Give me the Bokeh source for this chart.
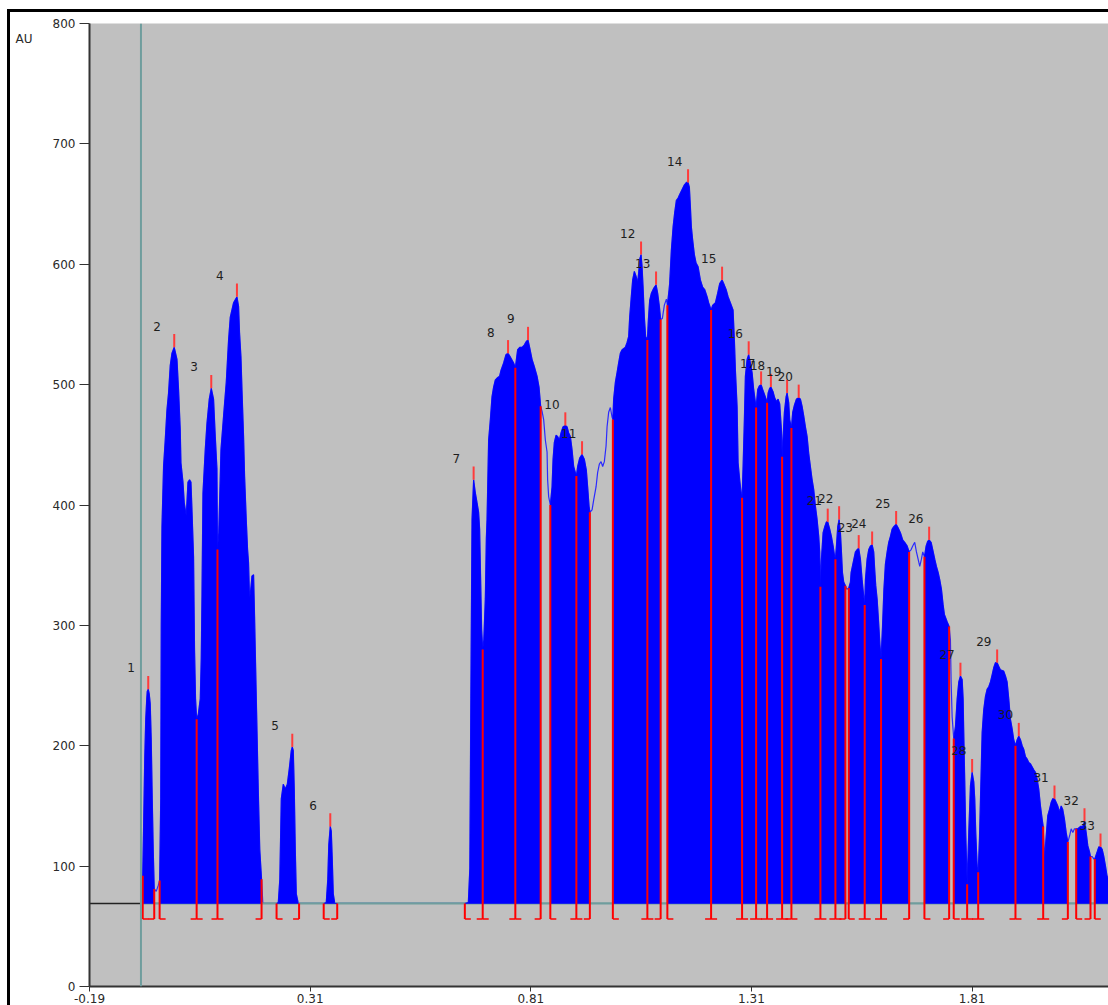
import numpy as np
from bokeh.plotting import figure
from bokeh.models import Range1d, FixedTicker, Span, LinearAxis
from bokeh.embed import file_html
from bokeh.resources import INLINE
from bokeh.core.properties import value

# ---------------- data (time, AU) ----------------
time_pts = [
    -0.0734, -0.0716, -0.0694, -0.0671, -0.0648, -0.0626, -0.0603, -0.0592, -0.0569, -0.0546, -0.0524, -0.0501, -0.0478, -0.0456, -0.0433, -0.0388, -0.0342, -0.0311,
    -0.0286, -0.0274, -0.0258, -0.0222, -0.0184, -0.0145, -0.0109, -0.0070, -0.0032, 0.0020, 0.0082, 0.0118, 0.0156, 0.0172, 0.0218, 0.0247, 0.0292, 0.0331, 0.0367, 0.0399, 0.0422, 0.0458, 0.0480, 0.0503, 0.0528,
    0.0564, 0.0610, 0.0632, 0.0648, 0.0671, 0.0723, 0.0762, 0.0814, 0.0859, 0.0911, 0.0950, 0.0988, 0.1000,
    0.1029, 0.1079, 0.1138, 0.1199, 0.1251, 0.1290, 0.1364, 0.1441, 0.1478, 0.1500, 0.1532, 0.1555, 0.1591, 0.1614, 0.1652, 0.1682, 0.1704, 0.1727, 0.1754, 0.1781, 0.1818, 0.1840, 0.1856, 0.1890, 0.1924, 0.1958, 0.1999, 0.2026, 0.2060,
    0.2339, 0.2378, 0.2412, 0.2446, 0.2491, 0.2536, 0.2582, 0.2627, 0.2672, 0.2695, 0.2718, 0.2740, 0.2763, 0.2786, 0.2831, 0.2849,
    0.3407, 0.3465, 0.3499, 0.3522, 0.3556, 0.3579, 0.3601, 0.3624, 0.3658, 0.3713,
    0.6605, 0.6684, 0.6718, 0.6741, 0.6768, 0.6804, 0.6843, 0.6881, 0.6917, 0.6940, 0.6963, 0.6985, 0.7010,
    0.7035, 0.7069, 0.7092, 0.7108, 0.7144, 0.7183, 0.7221, 0.7257, 0.7296, 0.7348, 0.7393, 0.7425, 0.7484, 0.7538, 0.7584, 0.7636, 0.7711, 0.7749,
    0.7801, 0.7847, 0.7901, 0.7953, 0.7999, 0.8037, 0.8073, 0.8128, 0.8180, 0.8241, 0.8286, 0.8323,
    0.8354, 0.8391, 0.8429, 0.8468, 0.8481, 0.8504, 0.8542,
    0.8581, 0.8604, 0.8633, 0.8672, 0.8708, 0.8746, 0.8785, 0.8830, 0.8882, 0.8921, 0.8957, 0.8996, 0.9034, 0.9071, 0.9132,
    0.9161, 0.9207, 0.9261, 0.9313, 0.9358, 0.9388, 0.9420, 0.9438,
    0.9488, 0.9524, 0.9578, 0.9614, 0.9653, 0.9692, 0.9728, 0.9766, 0.9805, 0.9828, 0.9864, 0.9902, 0.9941, 0.9959,
    0.9977, 1.0016, 1.0054, 1.0090, 1.0129, 1.0167, 1.0242, 1.0281, 1.0317, 1.0340, 1.0372, 1.0408, 1.0446, 1.0485, 1.0521, 1.0544, 1.0566, 1.0598, 1.0621, 1.0644, 1.0673, 1.0702, 1.0741,
    1.0764, 1.0793, 1.0832, 1.0884, 1.0938, 1.0974, 1.1013, 1.1042,
    1.1081, 1.1126, 1.1172, 1.1194,
    1.1233, 1.1246, 1.1285, 1.1324, 1.1360, 1.1398, 1.1437, 1.1473, 1.1527, 1.1580, 1.1625, 1.1663, 1.1693, 1.1716, 1.1738, 1.1768, 1.1806, 1.1845, 1.1890, 1.1942, 1.1994, 1.2040, 1.2094, 1.2130, 1.2185,
    1.2221, 1.2282, 1.2334, 1.2380, 1.2434, 1.2470, 1.2525, 1.2570, 1.2622, 1.2683, 1.2713, 1.2736, 1.2774, 1.2797, 1.2833, 1.2865, 1.2887,
    1.2910, 1.2939, 1.2962, 1.3001, 1.3037, 1.3075, 1.3114, 1.3150, 1.3205,
    1.3241, 1.3279, 1.3318, 1.3354, 1.3393, 1.3431, 1.3454,
    1.3477, 1.3513, 1.3540, 1.3590, 1.3626, 1.3665, 1.3703, 1.3740, 1.3778, 1.3794,
    1.3817, 1.3846, 1.3885, 1.3907, 1.3944, 1.3966, 1.3998, 1.4005,
    1.4034, 1.4073, 1.4118, 1.4170, 1.4209, 1.4247, 1.4284, 1.4322, 1.4360, 1.4397, 1.4435, 1.4474, 1.4510, 1.4549, 1.4587, 1.4624, 1.4646, 1.4662,
    1.4685, 1.4723, 1.4760, 1.4798, 1.4828, 1.4873, 1.4911, 1.4950, 1.4986, 1.5002,
    1.5025, 1.5054, 1.5086, 1.5116, 1.5139, 1.5161, 1.5190, 1.5229,
    1.5263, 1.5304,
    1.5342, 1.5358, 1.5403, 1.5455, 1.5494, 1.5530, 1.5569, 1.5607, 1.5644, 1.5666,
    1.5682, 1.5720, 1.5757, 1.5795, 1.5834, 1.5870, 1.5893, 1.5916, 1.5947, 1.5977, 1.6011, 1.6036,
    1.6067, 1.6101, 1.6135, 1.6174, 1.6210, 1.6249, 1.6287, 1.6324, 1.6378, 1.6423, 1.6475, 1.6527, 1.6573, 1.6627, 1.6673,
    1.6718, 1.6754, 1.6799, 1.6838, 1.6876, 1.6913, 1.6951, 1.6981, 1.7019,
    1.7058, 1.7094, 1.7126, 1.7171, 1.7207, 1.7253, 1.7291, 1.7330, 1.7366, 1.7405, 1.7443, 1.7472, 1.7534, 1.7579,
    1.7608, 1.7624, 1.7647, 1.7683,
    1.7722, 1.7761, 1.7797, 1.7835, 1.7874, 1.7896, 1.7910, 1.7933, 1.7955, 1.7987,
    1.8023, 1.8062, 1.8100, 1.8137, 1.8159, 1.8182, 1.8214, 1.8237,
    1.8266, 1.8289, 1.8327, 1.8363, 1.8402, 1.8440, 1.8477, 1.8515, 1.8554, 1.8590, 1.8628, 1.8667, 1.8703, 1.8742, 1.8816, 1.8855, 1.8893, 1.8930, 1.8968, 1.9007, 1.9043, 1.9082,
    1.9120, 1.9157, 1.9195, 1.9234, 1.9270, 1.9308, 1.9347, 1.9383, 1.9422, 1.9497, 1.9535, 1.9574, 1.9610, 1.9648, 1.9687, 1.9710,
    1.9739, 1.9784, 1.9814, 1.9852, 1.9891, 1.9927, 1.9966, 2.0004, 2.0041, 2.0079, 2.0118, 2.0154, 2.0192, 2.0231, 2.0269,
    2.0307, 2.0344, 2.0381, 2.0419, 2.0458,
    2.0493, 2.0555, 2.0607, 2.0646, 2.0684, 2.0721, 2.0759, 2.0782,
    2.0820, 2.0857, 2.0879,
    2.0934, 2.0970, 2.1009, 2.1047, 2.1084, 2.1122, 2.1156, 2.1189, 2.1400,
]
au_pts = [
    69, 80, 92, 140, 190, 222, 239, 245, 247, 243, 235, 205, 156, 114, 81, 79, 84, 88,
    156, 299, 382, 432, 454, 479, 493, 516, 526, 531, 521, 496, 463, 435, 419, 402, 391, 419, 421, 419, 396, 357, 280, 239, 222,
    226, 239, 272, 322, 410, 446, 468, 488, 497, 488, 457, 430, 363,
    377, 446, 474, 502, 537, 556, 568, 573, 565, 543, 523, 496, 457, 424, 388, 363, 352, 322, 330, 341, 342, 308, 280, 222, 164, 114, 89, 70, 69,
    69, 70, 89, 156, 168, 164, 168, 181, 196, 199, 196, 164, 114, 77, 69, 69,
    69, 70, 89, 118, 133, 129, 106, 77, 69, 69,
    69, 70, 98, 239, 388, 421, 410, 402, 394, 380, 338, 297, 280,
    288, 322, 372, 388, 454, 471, 490, 498, 504, 506, 507, 512, 518, 525, 526, 523, 518, 514,
    529, 531, 531, 533, 536, 537, 531, 521, 515, 507, 498, 482,
    478, 471, 454, 444, 421, 407, 400,
    415, 438, 452, 458, 457, 454, 460, 465, 466, 465, 460, 457, 446, 432, 424,
    432, 439, 442, 438, 429, 415, 399, 394,
    396, 404, 415, 427, 434, 436, 432, 436, 449, 465, 477, 481, 473, 471,
    488, 502, 510, 518, 526, 529, 531, 535, 540, 556, 571, 587, 594, 590, 585, 593, 604, 608, 598, 581, 556, 540, 537,
    554, 570, 576, 580, 583, 576, 565, 554,
    555, 566, 571, 566,
    579, 584, 612, 631, 643, 653, 655, 658, 662, 666, 668, 668, 664, 648, 631, 620, 608, 601, 598, 587, 581, 579, 573, 568, 562,
    566, 568, 576, 584, 587, 584, 579, 573, 568, 562, 537, 512, 482, 435, 421, 410, 406,
    432, 471, 507, 521, 525, 518, 510, 496, 481,
    496, 499, 500, 496, 492, 488, 485,
    493, 497, 498, 494, 489, 486, 488, 484, 463, 440,
    457, 477, 490, 493, 485, 471, 465, 464,
    477, 483, 488, 489, 488, 482, 474, 465, 457, 443, 432, 421, 413, 399, 388, 374, 361, 332,
    355, 377, 382, 386, 386, 380, 374, 366, 357, 355,
    366, 382, 388, 377, 361, 344, 336, 333,
    330, 331,
    336, 344, 352, 361, 363, 364, 355, 338, 324, 317,
    338, 355, 363, 366, 367, 361, 346, 333, 322, 305, 284, 272,
    297, 330, 351, 361, 369, 374, 380, 382, 384, 381, 377, 371, 369, 366, 361,
    363, 366, 369, 361, 355, 349, 355, 361, 357,
    366, 370, 371, 369, 363, 355, 349, 344, 338, 330, 317, 309, 303, 299,
    288, 253, 224, 206,
    216, 239, 253, 258, 255, 239, 211, 170, 128, 85,
    128, 167, 178, 170, 156, 128, 100, 95,
    123, 156, 211, 230, 241, 247, 249, 253, 259, 265, 269, 269, 266, 263, 262, 258, 253, 239, 222, 214, 205, 200,
    205, 208, 205, 200, 197, 191, 189, 186, 185, 180, 178, 172, 164, 150, 139, 133,
    106, 128, 142, 147, 153, 156, 156, 153, 150, 145, 150, 147, 139, 128, 120,
    125, 131, 128, 131, 131,
    131, 133, 133, 137, 128, 117, 112, 108,
    108, 106, 106,
    112, 116, 116, 114, 108, 100, 92, 89, 80,
]

peak_ids = [str(i) for i in range(1, 34)]
peak_time = [-0.0569, 0.0020, 0.0859, 0.1441, 0.2695, 0.3556, 0.6804, 0.7584, 0.8037, 0.8882,
             0.9261, 1.0598, 1.0938, 1.1663, 1.2434, 1.3037, 1.3318, 1.3540, 1.3907, 1.4170,
             1.4828, 1.5086, 1.5530, 1.5834, 1.6378, 1.7126, 1.7835, 1.8100, 1.8667, 1.9157,
             1.9966, 2.0646, 2.1009]
peak_au = [247, 531, 497, 573, 199, 133, 421, 526, 537, 466,
           442, 608, 583, 668, 587, 525, 500, 498, 493, 489,
           386, 388, 364, 367, 384, 371, 258, 178, 269, 208,
           156, 137, 116]

seg_start = [-0.0694, -0.0311, 0.0528, 0.1000, 0.2339, 0.3407, 0.6605, 0.7010, 0.7749, 0.8542,
             0.9132, 0.9959, 1.0741, 1.1194, 1.2185, 1.2887, 1.3205, 1.3454, 1.3794, 1.4005,
             1.4662, 1.5002, 1.5304, 1.5666, 1.6036, 1.7019, 1.7683, 1.7987, 1.8237, 1.9082,
             1.9710, 2.0458, 2.0879]
seg_end = [-0.0433, 0.0528, 0.1000, 0.1999, 0.2849, 0.3713, 0.7010, 0.7749, 0.8323, 0.9132,
           0.9438, 1.0741, 1.1042, 1.2185, 1.2887, 1.3205, 1.3454, 1.3794, 1.4005, 1.4662,
           1.5002, 1.5229, 1.5666, 1.6036, 1.6673, 1.7579, 1.7987, 1.8237, 1.9082, 1.9710,
           2.0269, 2.0782, 2.1400]

baseline_au = 69
inject_time = -0.0734
unit_label = "AU"
unit_label_au = 787
x_ticks = [-0.19, 0.31, 0.81, 1.31, 1.81]
y_ticks = [0, 100, 200, 300, 400, 500, 600, 700, 800]

assert len(time_pts) == len(au_pts)

# ---------------- figure ----------------
X0, X1 = -0.19, 2.119
p = figure(width=1108, height=1005, x_range=Range1d(X0, X1), y_range=Range1d(0, 800),
           output_backend="svg", toolbar_location=None,
           min_border_left=89, min_border_right=0, min_border_top=23, min_border_bottom=0)
p.background_fill_color = "#c0c0c0"
p.border_fill_color = "white"
p.border_fill_alpha = 0.0
p.outline_line_color = None
p.xgrid.visible = False
p.ygrid.visible = False
# outer black frame of the picture (left and top edges)
p.styles = {"box-shadow": "inset 7px 9px 0 0 #ffffff, inset 10px 12px 0 0 #000000"}

FONT = "DejaVu Sans"
for ax in (p.xaxis[0], p.yaxis[0]):
    ax.axis_line_color = "#333333"
    ax.axis_line_width = 2
    ax.major_tick_line_color = "#333333"
    ax.major_tick_in = 0
    ax.minor_tick_line_color = None
    ax.major_label_text_font = FONT
    ax.major_label_text_font_size = "12px"
    ax.major_label_text_color = "#2a2a2a"
p.yaxis.ticker = FixedTicker(ticks=y_ticks)
p.yaxis.major_tick_out = 10
p.yaxis.major_label_standoff = 4
p.xaxis.ticker = FixedTicker(ticks=x_ticks)
p.xaxis.major_tick_out = 5
p.xaxis.major_label_standoff = 2
p.xaxis.major_label_overrides = {t: f"{t:.2f}" for t in x_ticks}

# unit label "AU" at the top left, as a second (bare) left axis
unit_axis = LinearAxis(ticker=FixedTicker(ticks=[unit_label_au]),
                       major_label_overrides={unit_label_au: unit_label},
                       axis_line_color=None, major_tick_line_color=None,
                       minor_tick_line_color=None, major_tick_out=0, major_tick_in=0,
                       major_label_standoff=17,
                       major_label_text_font=FONT, major_label_text_font_size="12px",
                       major_label_text_color="#2a2a2a")
p.add_layout(unit_axis, "left")

tx = np.array(time_pts, dtype=float)
ay = np.array(au_pts, dtype=float)

# thin signal trace
p.line(tx, ay, line_color="#2a2aff", line_width=1.2)

# baseline: black before injection marker, teal afterwards
p.line([X0, inject_time], [baseline_au, baseline_au], line_color="#222222", line_width=1.5)
p.line([inject_time, X1], [baseline_au, baseline_au], line_color="#6f9d9d", line_width=2.2)

# filled integrated peaks
fill_xs, fill_ys = [], []
for s, e in zip(seg_start, seg_end):
    inside = (tx > s) & (tx < e)
    xs = [s] + list(tx[inside]) + [e]
    ys = [float(np.interp(s, tx, ay))] + list(ay[inside]) + [float(np.interp(e, tx, ay))]
    fill_xs.append([s] + xs + [e])
    fill_ys.append([baseline_au] + ys + [baseline_au])
p.patches(fill_xs, fill_ys, fill_color="#0000ff", line_color="#0000ff", line_width=0.6)

# injection marker
p.add_layout(Span(location=inject_time, dimension="height", line_color="#6f9d9d", line_width=2))

# drop lines and integration brackets
bracket_au = 56
foot = 0.0136
bnds = sorted(set(seg_start + seg_end))
tops = np.interp(bnds, tx, ay)
p.segment(x0=bnds, y0=[bracket_au] * len(bnds), x1=bnds, y1=list(tops),
          line_color="#ff0000", line_width=2)
p.segment(x0=seg_start, y0=[bracket_au] * len(seg_start),
          x1=[s + foot for s in seg_start], y1=[bracket_au] * len(seg_start),
          line_color="#ff0000", line_width=1.5)
p.segment(x0=[e - foot for e in seg_end], y0=[bracket_au] * len(seg_end),
          x1=seg_end, y1=[bracket_au] * len(seg_end),
          line_color="#ff0000", line_width=1.5)

# apex ticks and peak numbers
tick_top = [v + 11 for v in peak_au]
p.segment(x0=peak_time, y0=peak_au, x1=peak_time, y1=tick_top,
          line_color="#ff3b3b", line_width=2)
p.text(x=peak_time, y=tick_top, text=peak_ids, x_offset=-21, y_offset=-8,
       text_align="left", text_baseline="alphabetic",
       text_font=value(FONT), text_font_size="12px", text_color="#1e1e1e")

open("out.html", "w").write(file_html(p, INLINE))
